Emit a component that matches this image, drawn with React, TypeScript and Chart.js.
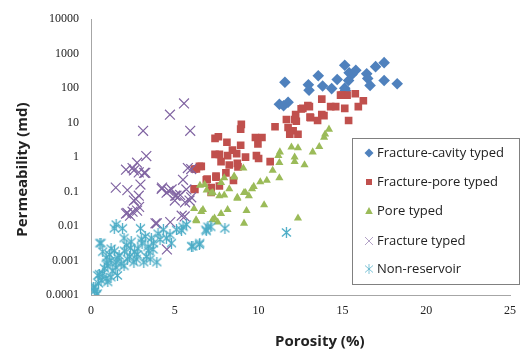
import { useEffect, useRef } from "react";
import { Chart, registerables } from "chart.js";

Chart.register(...registerables);

// ---------- data (porosity %, permeability md) ----------
const fractureCavity: number[][] = [
  [11.57, 148], [13.56, 230], [12.97, 126], [13.82, 115], [13.01, 87], [14.36, 97],
  [14.69, 178], [15.14, 460], [15.4, 280], [15.57, 250], [15.37, 167], [15.14, 100],
  [15.18, 85], [16.45, 260], [16.51, 190], [16.65, 120], [16.98, 420], [17.49, 550],
  [17.49, 166], [18.27, 134], [11.24, 34], [11.76, 39], [11.49, 31], [15.8, 330],
];

const fracturePore: number[][] = [
  [12.64, 26], [13.03, 29], [13.07, 14.5], [11.66, 12.3], [12.15, 12.3], [10.98, 7.6],
  [11.76, 7.2], [12.06, 5.8], [12.35, 4.6], [11.86, 4.6], [8.97, 8.9], [8.93, 6.5],
  [7.6, 3.9], [8.11, 2.7], [9.81, 3.7], [10.2, 3.7], [9.96, 2.4], [8.93, 2.2],
  [8.44, 1.6], [7.66, 1.2], [8.15, 1.1], [8.69, 1.26], [9.22, 1.0], [9.87, 1.1],
  [10.0, 0.91], [7.76, 0.74], [8.25, 0.59], [8.73, 0.66], [8.77, 0.52], [10.69, 0.74],
  [6.58, 0.54], [6.29, 0.45], [8.05, 0.35], [7.46, 0.28], [6.88, 0.22], [7.17, 0.094],
  [6.2, 0.115], [6.93, 0.23], [7.46, 0.26], [7.17, 0.13], [6.15, 0.12], [8.5, 0.21],
  [7.66, 0.145], [14.99, 63], [15.28, 63], [15.77, 69], [16.25, 43], [15.95, 29],
  [14.3, 29], [14.6, 29], [15.14, 26], [13.77, 48], [12.94, 31], [13.77, 17],
  [13.9, 16], [13.1, 14], [13.52, 11.5], [15.37, 11.5], [12.21, 17], [14.89, 63],
  [12.54, 25], [12.25, 11], [7.4, 3.5], [7.4, 1.2], [6.47, 0.54], [6.17, 0.45],
];

const poreTyped: number[][] = [
  [11.96, 1.95], [12.35, 1.85], [11.27, 1.4], [11.18, 1.1], [12.15, 1.0], [13.23, 1.4],
  [11.24, 0.69], [12.15, 0.74], [12.74, 0.59], [10.84, 0.41], [9.09, 0.48], [8.54, 0.28],
  [7.95, 0.25], [7.76, 0.18], [6.78, 0.16], [7.27, 0.093], [7.66, 0.075], [8.25, 0.12],
  [9.22, 0.093], [9.61, 0.12], [9.71, 0.14], [10.1, 0.19], [10.49, 0.21], [11.24, 0.25],
  [8.73, 0.063], [10.33, 0.041], [9.28, 0.028], [8.15, 0.03], [6.68, 0.03], [7.17, 0.089],
  [7.95, 0.079], [9.42, 0.075], [8.54, 0.26], [7.76, 0.023], [6.58, 0.026], [6.15, 0.032],
  [7.37, 0.017], [6.29, 0.014], [9.13, 0.012], [12.35, 0.017], [7.56, 0.013], [14.2, 6.4],
  [13.97, 4.6], [13.91, 3.7], [13.62, 2.0], [6.27, 0.015], [7.25, 0.015], [6.5, 0.15],
  [6.9, 0.11], [8.73, 0.068], [9.13, 0.093],
];

const fractureTyped: number[][] = [
  [5.55, 36], [4.71, 17], [3.11, 5.8], [5.92, 5.8], [3.3, 1.07], [2.75, 0.69],
  [2.56, 0.41], [3.24, 0.35], [2.85, 0.36], [5.78, 0.48], [5.98, 0.45], [1.48, 0.13],
  [2.17, 0.11], [2.95, 0.16], [2.85, 0.076], [4.22, 0.12], [4.81, 0.115], [4.51, 0.093],
  [5.49, 0.22], [5.69, 0.115], [5.1, 0.076], [5.98, 0.068], [2.68, 0.06], [2.09, 0.023],
  [2.48, 0.026], [2.87, 0.036], [2.33, 0.02], [4.24, 0.13], [4.63, 0.104], [5.02, 0.076],
  [5.32, 0.08], [5.61, 0.049], [5.41, 0.02], [3.85, 0.012], [4.73, 0.013], [4.53, 0.0021],
  [2.56, 0.055], [2.17, 0.024], [2.75, 0.028], [5.0, 0.055], [5.88, 0.055], [3.93, 0.012],
  [5.59, 0.019], [2.48, 0.48], [2.09, 0.43], [3.17, 0.35],
];

const nonReservoir: number[][] = [
  [0.37, 0.00011], [0.25, 0.00017], [0.14, 0.00017], [0.33, 0.0001], [0.41, 0.00037],
  [0.7, 0.00042], [1.0, 0.00024], [1.19, 0.00033], [0.6, 0.0032], [0.53, 0.0032],
  [1.39, 0.0086], [1.88, 0.0086], [2.95, 0.0086], [1.97, 0.0045], [2.36, 0.0023],
  [0.9, 0.0012], [1.19, 0.001], [1.68, 0.0014], [1.97, 0.0007], [1.48, 0.00064],
  [2.17, 0.0011], [2.75, 0.0015], [3.15, 0.0009], [3.53, 0.0011], [3.05, 0.0032],
  [3.73, 0.0032], [3.24, 0.005], [4.12, 0.0041], [4.32, 0.0078], [4.71, 0.0056],
  [5.1, 0.0078], [5.49, 0.0095], [3.93, 0.0009], [3.44, 0.0019], [2.56, 0.0009],
  [1.58, 0.00037], [0.6, 0.00027], [6.86, 0.0078], [7.15, 0.0095], [6.47, 0.0029],
  [6.08, 0.0026], [6.98, 0.0095], [6.88, 0.0072], [7.99, 0.0086], [6.0, 0.0026],
  [6.49, 0.0032], [5.7, 0.011], [5.4, 0.0075], [11.66, 0.0065], [1.0, 0.0007],
  [1.5, 0.011], [0.8, 0.0006], [1.3, 0.0005], [1.8, 0.0008], [2.3, 0.0013],
  [2.6, 0.0018], [3.4, 0.0025], [3.7, 0.0021], [2.0, 0.0019], [1.1, 0.0015],
  [0.5, 0.0004], [0.9, 0.0003], [1.5, 0.0009], [2.4, 0.0035], [3.0, 0.0042],
  [4.0, 0.006], [4.5, 0.0045], [3.6, 0.0045], [0.2, 0.00013], [0.45, 0.00022],
  [1.2, 0.0022], [0.7, 0.0018], [1.6, 0.0012], [2.1, 0.0028], [2.8, 0.0022],
  [3.3, 0.0013], [1.4, 0.0019], [0.95, 0.00085], [4.8, 0.0032], [2.7, 0.0011],
];

const seriesNames = [
  "Fracture-cavity typed",
  "Fracture-pore typed",
  "Pore typed",
  "Fracture typed",
  "Non-reservoir",
];
const seriesColors = ["#4F81BD", "#C0504D", "#9BBB59", "#8064A2", "#4BACC6"];

const xTicks = [0, 5, 10, 15, 20, 25];
const yTicks = [0.0001, 0.001, 0.01, 0.1, 1, 10, 100, 1000, 10000];
const xTitle = "Porosity (%)";
const yTitle = "Permeability (md)";

function makeAsterisk(size: number, color: string, lw: number): HTMLCanvasElement {
  const c = document.createElement("canvas");
  c.width = size;
  c.height = size;
  const ctx = c.getContext("2d")!;
  ctx.strokeStyle = color;
  ctx.lineWidth = lw;
  const m = 1;
  ctx.beginPath();
  ctx.moveTo(m, m + 0.5);
  ctx.lineTo(size - m, size - m - 0.5);
  ctx.moveTo(size - m, m + 0.5);
  ctx.lineTo(m, size - m - 0.5);
  ctx.moveTo(size / 2, 0);
  ctx.lineTo(size / 2, size);
  ctx.stroke();
  return c;
}

function drawLegendMarker(ctx: CanvasRenderingContext2D, i: number, x: number, y: number) {
  const col = seriesColors[i];
  ctx.save();
  ctx.fillStyle = col;
  ctx.strokeStyle = col;
  ctx.beginPath();
  if (i === 0) {
    const r = 4.5;
    ctx.moveTo(x, y - r);
    ctx.lineTo(x + r, y);
    ctx.lineTo(x, y + r);
    ctx.lineTo(x - r, y);
    ctx.closePath();
    ctx.fill();
  } else if (i === 1) {
    ctx.rect(x - 3, y - 3, 6, 6);
    ctx.fill();
  } else if (i === 2) {
    ctx.moveTo(x, y - 4);
    ctx.lineTo(x + 3.8, y + 3);
    ctx.lineTo(x - 3.8, y + 3);
    ctx.closePath();
    ctx.fill();
  } else if (i === 3) {
    ctx.globalAlpha = 0.6;
    ctx.lineWidth = 1;
    ctx.moveTo(x - 4, y - 4);
    ctx.lineTo(x + 4, y + 4);
    ctx.moveTo(x + 4, y - 4);
    ctx.lineTo(x - 4, y + 4);
    ctx.stroke();
  } else {
    ctx.globalAlpha = 0.7;
    ctx.lineWidth = 1;
    ctx.moveTo(x - 4, y - 3.5);
    ctx.lineTo(x + 4, y + 3.5);
    ctx.moveTo(x + 4, y - 3.5);
    ctx.lineTo(x - 4, y + 3.5);
    ctx.moveTo(x, y - 5);
    ctx.lineTo(x, y + 5);
    ctx.stroke();
  }
  ctx.restore();
}

const overlayPlugin = {
  id: "overlay",
  afterDraw(chart: any) {
    const ctx: CanvasRenderingContext2D = chart.ctx;
    const area = chart.chartArea;
    ctx.save();
    // axis titles
    ctx.fillStyle = "#222";
    ctx.font = "bold 15px 'Open Sans'";
    ctx.textAlign = "center";
    ctx.textBaseline = "middle";
    ctx.fillText(xTitle, area.left + (area.right - area.left) * 0.546, 342);
    ctx.translate(23, area.top + (area.bottom - area.top) * 0.545);
    ctx.rotate(-Math.PI / 2);
    ctx.fillText(yTitle, 0, 0);
    ctx.restore();

    // legend box
    ctx.save();
    const bx = 352.5, by = 138.5, bw = 167, bh = 146;
    ctx.fillStyle = "#fff";
    ctx.fillRect(bx, by, bw, bh);
    ctx.strokeStyle = "#808080";
    ctx.lineWidth = 1;
    ctx.strokeRect(bx, by, bw, bh);
    const rowY = [153, 182, 211, 241, 269];
    ctx.font = "13px 'Open Sans'";
    ctx.textAlign = "left";
    ctx.textBaseline = "middle";
    seriesNames.forEach((name, i) => {
      drawLegendMarker(ctx, i, 369, rowY[i]);
      ctx.fillStyle = "#222";
      ctx.fillText(name, 377, rowY[i] + 0.5);
    });
    ctx.restore();
  },
};

export default function App() {
  const canvasRef = useRef<HTMLCanvasElement | null>(null);

  useEffect(() => {
    if (!canvasRef.current) return;
    const toPts = (arr: number[][]) => arr.map(([x, y]) => ({ x, y }));
    const asterisk = makeAsterisk(11, seriesColors[4], 1.3);

    const chart = new Chart(canvasRef.current, {
      type: "scatter",
      data: {
        datasets: [
          {
            label: seriesNames[0],
            data: toPts(fractureCavity),
            pointStyle: "rectRot",
            pointRadius: 5.8,
            backgroundColor: seriesColors[0],
            borderColor: seriesColors[0],
            borderWidth: 0,
            order: 4,
          },
          {
            label: seriesNames[1],
            data: toPts(fracturePore),
            pointStyle: "rect",
            pointRadius: 5.4,
            backgroundColor: seriesColors[1],
            borderColor: seriesColors[1],
            borderWidth: 0,
            order: 3,
          },
          {
            label: seriesNames[2],
            data: toPts(poreTyped),
            pointStyle: "triangle",
            pointRadius: 4.7,
            backgroundColor: seriesColors[2],
            borderColor: seriesColors[2],
            borderWidth: 0,
            order: 2,
          },
          {
            label: seriesNames[3],
            data: toPts(fractureTyped),
            pointStyle: "crossRot",
            pointRadius: 7,
            backgroundColor: seriesColors[3],
            borderColor: seriesColors[3],
            borderWidth: 1.2,
            order: 1,
          },
          {
            label: seriesNames[4],
            data: toPts(nonReservoir),
            pointStyle: asterisk as any,
            pointRadius: 5,
            backgroundColor: seriesColors[4],
            borderColor: seriesColors[4],
            borderWidth: 1.2,
            order: 0,
          },
        ],
      },
      options: {
        animation: false,
        responsive: true,
        maintainAspectRatio: false,
        events: [],
        layout: { padding: { top: 12, right: 7, left: 0, bottom: 0 } },
        plugins: {
          legend: { display: false },
          tooltip: { enabled: false },
          title: { display: false },
        },
        scales: {
          x: {
            type: "linear",
            min: 0,
            max: 25,
            afterBuildTicks: (s: any) => {
              s.ticks = xTicks.map((v) => ({ value: v }));
            },
            afterFit: (s: any) => {
              s.height = 59;
            },
            grid: { display: false, drawTicks: false },
            border: { display: true, color: "#a6a6a6", width: 1 },
            ticks: {
              padding: 9,
              color: "#222",
              font: { family: "'Liberation Serif'", size: 12 },
              maxRotation: 0,
              autoSkip: false,
            },
          },
          y: {
            type: "logarithmic",
            min: 0.0001,
            max: 10000,
            afterBuildTicks: (s: any) => {
              s.ticks = yTicks.map((v) => ({ value: v }));
            },
            afterFit: (s: any) => {
              s.width = 91;
            },
            grid: { display: false, drawTicks: false },
            border: { display: true, color: "#a6a6a6", width: 1 },
            ticks: {
              padding: 12,
              color: "#222",
              font: { family: "'Liberation Serif'", size: 12 },
              autoSkip: false,
              callback: (v: any) => String(v),
            },
          },
        },
      },
      plugins: [overlayPlugin],
    });
    return () => chart.destroy();
  }, []);

  return (
    <div style={{ position: "absolute", left: 0, top: 0, width: 525, height: 354, background: "#fff" }}>
      <canvas ref={canvasRef} />
    </div>
  );
}
